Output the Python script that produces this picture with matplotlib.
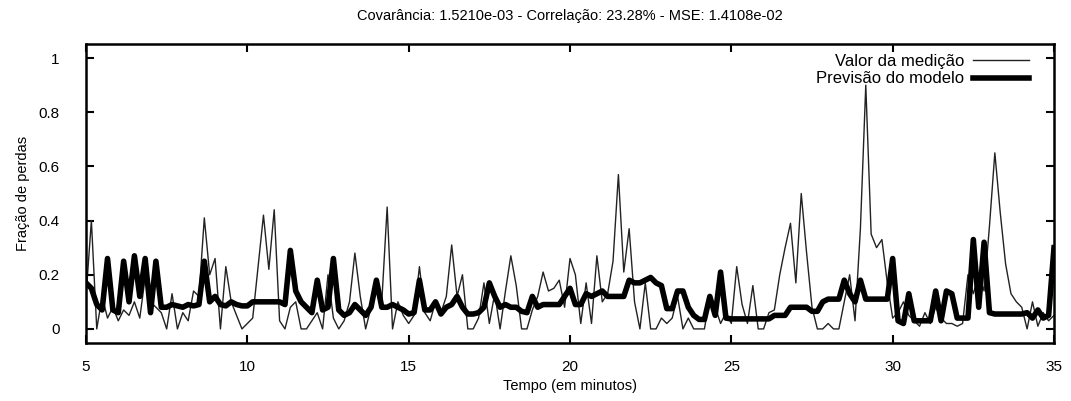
import matplotlib
matplotlib.use('Agg')

import numpy as np
import matplotlib.pyplot as plt

plt.rcParams['font.family'] = ['Liberation Sans', 'DejaVu Sans']

# ------------ dados ---------------
# amostras a cada 10 s, de 5 a 35 minutos
T_INI = 5.0
T_FIM = 35.0
PASSO = 1.0 / 6.0

# fração de perdas medida
medicao = [
    0.12, 0.40, 0.00, 0.12, 0.04, 0.08,   # 5
    0.03, 0.07, 0.05, 0.10, 0.04, 0.19,   # 6
    0.10, 0.08, 0.06, 0.00, 0.13, 0.00,   # 7
    0.06, 0.03, 0.14, 0.12, 0.41, 0.20,   # 8
    0.26, 0.00, 0.23, 0.10, 0.05, 0.00,   # 9
    0.02, 0.04, 0.23, 0.42, 0.22, 0.44,   # 10
    0.03, 0.00, 0.08, 0.10, 0.00, 0.00,   # 11
    0.03, 0.06, 0.00, 0.20, 0.04, 0.00,   # 12
    0.03, 0.10, 0.28, 0.12, 0.00, 0.08,   # 13
    0.17, 0.10, 0.45, 0.00, 0.10, 0.05,   # 14
    0.02, 0.05, 0.23, 0.06, 0.03, 0.10,   # 15
    0.06, 0.12, 0.31, 0.12, 0.20, 0.00,   # 16
    0.00, 0.04, 0.17, 0.02, 0.13, 0.00,   # 17
    0.14, 0.27, 0.16, 0.00, 0.00, 0.07,   # 18
    0.12, 0.21, 0.14, 0.15, 0.18, 0.08,   # 19
    0.26, 0.20, 0.02, 0.17, 0.02, 0.27,   # 20
    0.10, 0.13, 0.25, 0.57, 0.21, 0.37,   # 21
    0.10, 0.00, 0.17, 0.00, 0.00, 0.04,   # 22
    0.02, 0.04, 0.12, 0.00, 0.04, 0.00,   # 23
    0.00, 0.00, 0.12, 0.08, 0.02, 0.06,   # 24
    0.02, 0.23, 0.09, 0.02, 0.16, 0.00,   # 25
    0.00, 0.06, 0.07, 0.20, 0.30, 0.39,   # 26
    0.17, 0.50, 0.28, 0.08, 0.00, 0.00,   # 27
    0.02, 0.00, 0.00, 0.10, 0.20, 0.03,   # 28
    0.37, 0.90, 0.35, 0.30, 0.33, 0.17,   # 29
    0.04, 0.06, 0.10, 0.05, 0.03, 0.01,   # 30
    0.06, 0.02, 0.08, 0.04, 0.02, 0.02,   # 31
    0.01, 0.02, 0.20, 0.13, 0.20, 0.14,   # 32
    0.38, 0.65, 0.43, 0.24, 0.13, 0.10,   # 33
    0.08, 0.00, 0.10, 0.01, 0.06, 0.03,   # 34
    0.05,                                 # 35
]

# fração de perdas prevista pelo modelo
previsao = [
    0.17, 0.15, 0.09, 0.07, 0.26, 0.07,   # 5
    0.06, 0.25, 0.10, 0.27, 0.12, 0.26,   # 6
    0.06, 0.25, 0.08, 0.08, 0.09, 0.085,  # 7
    0.08, 0.09, 0.085, 0.09, 0.25, 0.10,  # 8
    0.12, 0.09, 0.085, 0.10, 0.09, 0.085, # 9
    0.085, 0.10, 0.10, 0.10, 0.10, 0.10,  # 10
    0.10, 0.09, 0.29, 0.14, 0.10, 0.08,   # 11
    0.06, 0.18, 0.07, 0.08, 0.26, 0.07,   # 12
    0.05, 0.06, 0.09, 0.07, 0.05, 0.08,   # 13
    0.18, 0.08, 0.08, 0.09, 0.08, 0.07,   # 14
    0.055, 0.06, 0.18, 0.07, 0.07, 0.10,  # 15
    0.055, 0.08, 0.09, 0.12, 0.08, 0.055, # 16
    0.055, 0.06, 0.08, 0.17, 0.12, 0.08,  # 17
    0.09, 0.08, 0.08, 0.065, 0.06, 0.12,  # 18
    0.08, 0.09, 0.09, 0.09, 0.09, 0.12,   # 19
    0.15, 0.09, 0.09, 0.13, 0.12, 0.13,   # 20
    0.14, 0.12, 0.12, 0.12, 0.12, 0.18,   # 21
    0.17, 0.17, 0.18, 0.19, 0.17, 0.16,   # 22
    0.075, 0.075, 0.14, 0.14, 0.08, 0.05, # 23
    0.035, 0.035, 0.12, 0.05, 0.21, 0.04, # 24
    0.037, 0.037, 0.037, 0.037, 0.037, 0.037,  # 25
    0.037, 0.037, 0.05, 0.05, 0.05, 0.08, # 26
    0.08, 0.08, 0.08, 0.065, 0.065, 0.10, # 27
    0.11, 0.11, 0.11, 0.18, 0.13, 0.10,   # 28
    0.18, 0.11, 0.11, 0.11, 0.11, 0.11,   # 29
    0.26, 0.03, 0.02, 0.13, 0.03, 0.03,   # 30
    0.03, 0.03, 0.14, 0.03, 0.14, 0.13,   # 31
    0.04, 0.04, 0.04, 0.33, 0.08, 0.32,   # 32
    0.06, 0.055, 0.055, 0.055, 0.055, 0.055,  # 33
    0.055, 0.06, 0.04, 0.07, 0.04, 0.05,  # 34
    0.30,                                 # 35
]

titulo = 'Covarância: 1.5210e-03 - Correlação: 23.28% - MSE: 1.4108e-02'

tempo = T_INI + PASSO * np.arange(len(medicao))

fig = plt.figure(figsize=(10.71, 4.01), dpi=100)
ax = fig.add_axes([86 / 1071, 1 - 343 / 401, (1054 - 86) / 1071, (343 - 44) / 401])

ax.plot(tempo, medicao, color='#222222', lw=1.0, label='Valor da medição')
ax.plot(tempo, previsao, color='black', lw=4.0, label='Previsão do modelo',
        solid_joinstyle='round')

ax.set_xlim(T_INI, T_FIM)
ax.set_ylim(-0.052, 1.052)
ax.set_xticks(range(5, 36, 5))
ax.set_yticks([0, 0.2, 0.4, 0.6, 0.8, 1])
ax.set_yticklabels(['0', '0.2', '0.4', '0.6', '0.8', '1'])
ax.tick_params(direction='in', length=6, width=1.5, top=True, right=True,
               labelsize=11)
ax.tick_params(axis='x', pad=12)
ax.tick_params(axis='y', pad=19)
for s in ax.spines.values():
    s.set_linewidth(1.8)

ax.set_title(titulo, fontsize=10.5, pad=17)
ax.set_xlabel('Tempo (em minutos)', fontsize=10.5, labelpad=4)
ax.set_ylabel('Fração de perdas', fontsize=10.5, labelpad=6)

ax.legend(loc='upper right', frameon=False, markerfirst=False, fontsize=12,
          handlelength=3.4, handletextpad=0.5, labelspacing=0.15,
          borderaxespad=0.2, bbox_to_anchor=(0.985, 1.0))

fig.savefig('out.png', dpi=100)
